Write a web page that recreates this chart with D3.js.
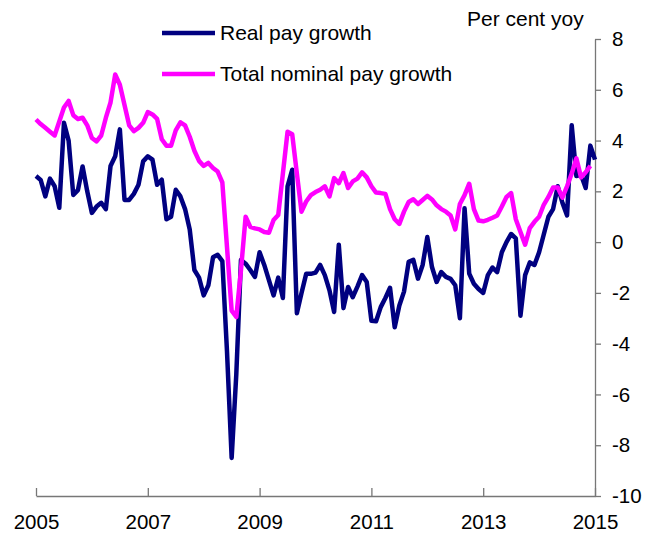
<!DOCTYPE html>
<html>
<head>
<meta charset="utf-8">
<script src="https://cdn.jsdelivr.net/npm/d3@7"></script>
<style>
  body { margin: 0; background: #fff; }
  text { font-family: Arial, "Liberation Sans", sans-serif; }
</style>
</head>
<body>
<script>
var width = 656,
    height = 533;

// monthly, Jan 2005 onwards
var startYear = 2005;

var realPay = [
  2.6, 2.45, 1.8, 2.5, 2.2, 1.35, 4.7, 4.0, 1.86, 2.05, 2.98, 2.0,
  1.15, 1.4, 1.55, 1.3, 3.0, 3.38, 4.44, 1.66, 1.66, 1.9, 2.26, 3.18,
  3.38, 3.25, 2.26, 2.46, 0.9, 1.0, 2.06, 1.8, 1.3, 0.5, -1.1, -1.4,
  -2.1, -1.7, -0.6, -0.5, -0.75, -4.3, -8.5, -5.2, -0.7, -0.85, -1.1, -1.37,
  -0.4, -0.9, -1.5, -2.1, -1.4, -2.2, 2.2, 2.85, -2.8, -2.0, -1.25, -1.25,
  -1.2, -0.9, -1.3, -1.9, -2.75, -0.1, -2.6, -1.77, -2.17, -1.75, -1.3, -1.57,
  -3.1, -3.12, -2.56, -2.2, -1.8, -3.35, -2.5, -1.95, -0.78, -0.7, -1.44, -0.9,
  0.2, -0.98, -1.57, -1.18, -1.37, -1.45, -1.7, -3.0, 1.33, -1.24, -1.64, -1.85,
  -2.0, -1.3, -1.0, -1.18, -0.4, 0.0, 0.32, 0.15, -2.9, -1.3, -0.8, -0.9,
  -0.4, 0.3, 1.0, 1.3, 2.2, 1.55, 1.05, 4.6, 2.6, 2.65, 2.13, 3.8,
  3.25
];

var nominalPay = [
  4.83, 4.65, 4.5, 4.35, 4.2, 4.75, 5.3, 5.56, 5.0, 4.85, 4.9, 4.6,
  4.1, 3.97, 4.2, 4.9, 5.5, 6.6, 6.2, 5.4, 4.6, 4.37, 4.5, 4.7,
  5.12, 5.03, 4.85, 4.05, 3.8, 3.8, 4.4, 4.72, 4.6, 4.15, 3.6, 3.2,
  3.0, 3.12, 2.92, 2.78, 2.35, -0.2, -2.7, -2.95, -1.1, 1.0, 0.6, 0.54,
  0.5, 0.4, 0.37, 0.87, 1.07, 2.7, 4.35, 4.25, 2.7, 1.2, 1.6, 1.85,
  1.97, 2.06, 2.2, 1.8, 2.52, 2.32, 2.72, 2.13, 2.39, 2.5, 2.75, 2.55,
  2.2, 1.95, 1.93, 1.9, 1.3, 0.9, 0.72, 1.2, 1.58, 1.69, 1.5, 1.66,
  1.82, 1.68, 1.45, 1.3, 1.2, 1.05, 0.5, 1.5, 1.85, 2.3, 1.3, 0.85,
  0.82, 0.88, 0.96, 1.05, 1.4, 1.78, 1.93, 0.9, 0.4, -0.1, 0.55, 0.8,
  1.0, 1.47, 1.78, 2.15, 2.15, 1.75, 2.2, 2.7, 3.3, 2.55, 2.75, 3.0
];

var xTicks = [2005, 2007, 2009, 2011, 2013, 2015];
var yTicks = [8, 6, 4, 2, 0, -2, -4, -6, -8, -10];

var seriesNames = ["Real pay growth", "Total nominal pay growth"];
var seriesColors = ["#000080", "#ff00ff"];

var svg = d3.select("body").append("svg")
            .attr("width", width)
            .attr("height", height);

var x = d3.scaleLinear()
          .domain([2005, 2015])
          .range([36, 595]);

var y = d3.scaleLinear()
          .domain([-10, 8])
          .range([496, 39]);

// axes
var xAxis = d3.axisBottom(x)
              .tickValues(xTicks)
              .tickFormat(d3.format("d"))
              .tickSizeInner(-8)
              .tickSizeOuter(0)
              .tickPadding(18);

var yAxis = d3.axisRight(y)
              .tickValues(yTicks)
              .tickFormat(function(d){ return String(d); })
              .tickSizeInner(6)
              .tickSizeOuter(0)
              .tickPadding(11);

var gx = svg.append("g")
            .attr("transform", "translate(0," + y(-10) + ")")
            .call(xAxis);

var gy = svg.append("g")
            .attr("transform", "translate(" + x(2015) + ",0)")
            .call(yAxis);

[gx, gy].forEach(function(g){
  g.selectAll("path, line").attr("stroke", "#777").attr("stroke-width", 1.3);
  g.selectAll("text")
   .attr("fill", "#000")
   .style("font-size", "20.5px")
   .style("font-family", "Arial, 'Liberation Sans', sans-serif");
});

// lines
var line = d3.line()
             .x(function(d, i){ return x(startYear + i / 12); })
             .y(function(d){ return y(d); });

[realPay, nominalPay].forEach(function(s, k){
  svg.append("path")
     .datum(s)
     .attr("d", line)
     .attr("fill", "none")
     .attr("stroke", seriesColors[k])
     .attr("stroke-width", 4.5)
     .attr("stroke-linejoin", "round");
});

// legend
var legend = svg.selectAll(".legend")
                .data(seriesNames)
                .enter()
                .append("g")
                .attr("class", "legend")
                .attr("transform", function(d, i){ return "translate(0," + (33 + i * 41) + ")"; });

legend.append("line")
      .attr("x1", 162).attr("x2", 215)
      .attr("y1", 0).attr("y2", 0)
      .attr("stroke", function(d, i){ return seriesColors[i]; })
      .attr("stroke-width", 4.5);

legend.append("text")
      .attr("x", 220)
      .attr("y", 7)
      .style("font-size", "21px")
      .text(function(d){ return d; });

svg.append("text")
   .attr("x", 467)
   .attr("y", 26)
   .style("font-size", "21px")
   .text("Per cent yoy");
</script>
</body>
</html>
